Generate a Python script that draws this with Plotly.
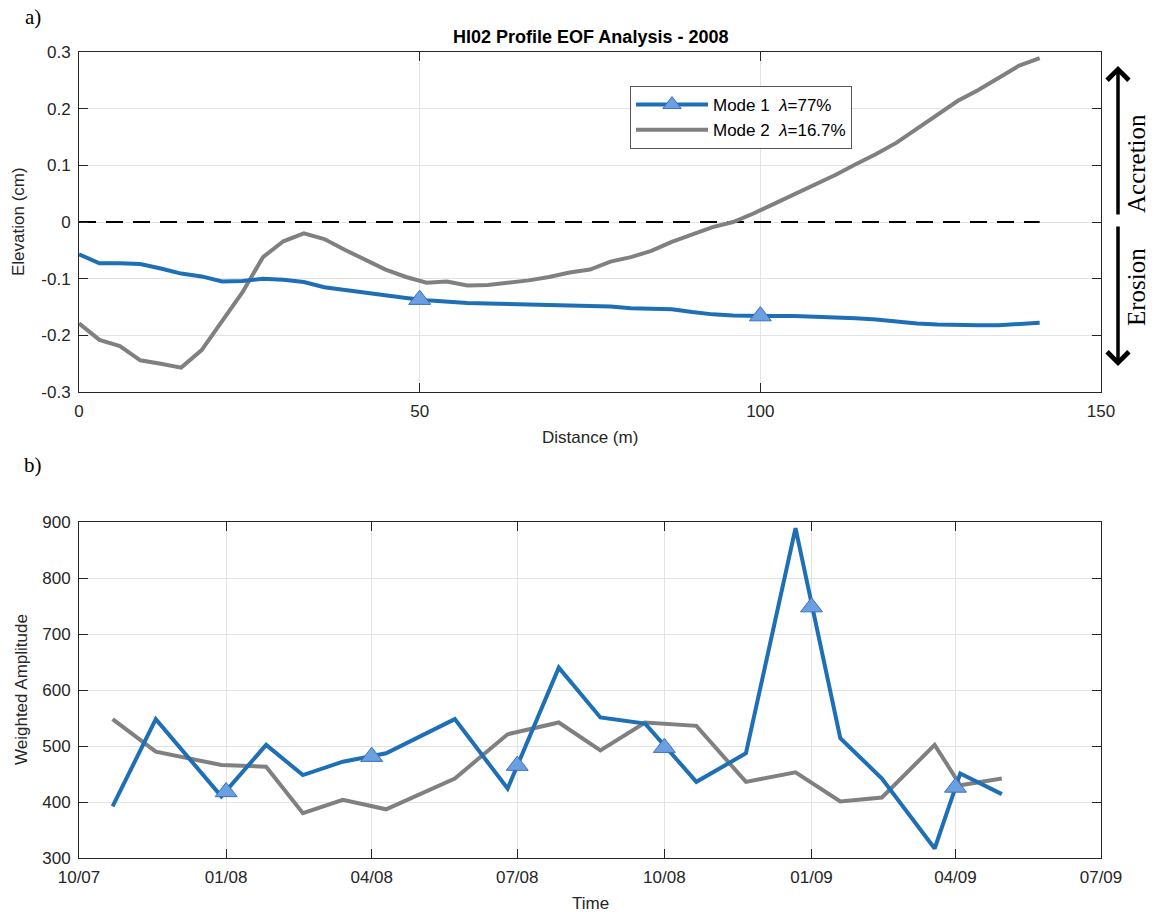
import plotly.graph_objects as go

# ---------------- data: panel a (EOF spatial modes) ----------------
distance_m = [0, 3, 6, 9, 12, 15, 18, 21, 24, 27, 30, 33, 36, 39, 42, 45, 48,
              51, 54, 57, 60, 63, 66, 69, 72, 75, 78, 81, 84, 87, 90, 93, 96,
              99, 102, 105, 108, 111, 114, 117, 120, 123, 126, 129, 132, 135,
              138, 141]
mode1_elev = [-0.057, -0.073, -0.073, -0.074, -0.082, -0.091, -0.096, -0.105,
              -0.104, -0.100, -0.102, -0.106, -0.115, -0.120, -0.125, -0.130,
              -0.134, -0.138, -0.141, -0.143, -0.144, -0.145, -0.146, -0.146,
              -0.147, -0.148, -0.149, -0.152, -0.153, -0.154, -0.159, -0.163,
              -0.165, -0.166, -0.166, -0.166, -0.167, -0.168, -0.170, -0.172,
              -0.176, -0.179, -0.181, -0.182, -0.182, -0.182, -0.180, -0.178]
mode2_elev = [-0.179, -0.208, -0.219, -0.244, -0.250, -0.257, -0.226, -0.175,
              -0.124, -0.062, -0.034, -0.020, -0.030, -0.049, -0.067, -0.084,
              -0.097, -0.107, -0.105, -0.112, -0.111, -0.107, -0.103, -0.097,
              -0.089, -0.084, -0.070, -0.062, -0.051, -0.035, -0.022, -0.009,
              0.000, 0.015, 0.032, 0.049, 0.066, 0.083, 0.102, 0.120, 0.140,
              0.164, 0.189, 0.214, 0.233, 0.254, 0.276, 0.289]
mode1_marker_x = [50, 100]
mode1_marker_y = [-0.137, -0.166]

a_xticks = [0, 50, 100, 150]
a_yticks = [-0.3, -0.2, -0.1, 0, 0.1, 0.2, 0.3]
a_yticktext = ["-0.3", "-0.2", "-0.1", "0", "0.1", "0.2", "0.3"]

# ---------------- data: panel b (temporal amplitudes) ----------------
survey_dates = ["2007-10-22", "2007-11-18", "2007-12-29", "2008-01-26",
                "2008-02-18", "2008-03-14", "2008-04-10", "2008-05-23",
                "2008-06-25", "2008-07-27", "2008-08-22", "2008-09-19",
                "2008-10-21", "2008-11-21", "2008-12-22", "2009-01-19",
                "2009-02-14", "2009-03-19", "2009-04-04", "2009-04-30"]
mode1_amp = [392, 548, 410, 502, 448, 472, 487, 548, 424, 640, 551, 540,
             436, 487, 889, 514, 442, 317, 451, 414]
mode2_amp = [548, 490, 466, 463, 380, 404, 387, 442, 521, 542, 492, 542,
             536, 436, 453, 401, 408, 502, 430, 442]
amp_marker_dates = ["2008-01-01", "2008-04-01", "2008-07-01", "2008-10-01",
                    "2009-01-01", "2009-04-01"]
amp_marker_vals = [418, 481, 465, 497, 748, 426]

b_xticks = ["2007-10-01", "2008-01-01", "2008-04-01", "2008-07-01",
            "2008-10-01", "2009-01-01", "2009-04-01", "2009-07-01"]
b_xticktext = ["10/07", "01/08", "04/08", "07/08", "10/08", "01/09", "04/09", "07/09"]
b_yticks = [300, 400, 500, 600, 700, 800, 900]

# ---------------- styling ----------------
W, H = 1155, 912
BLUE = "#1f6fb6"
GRAY = "#808080"
MK_FILL = "#6a9fe0"
MK_EDGE = "#3c6fc0"
SANS = "Liberation Sans, Arial, Helvetica, sans-serif"
SERIF = "Liberation Serif, Times New Roman, serif"
AX_COL = "#262626"
FS = 17

def px(x):
    return x / W

def py(y):
    return 1 - y / H

fig = go.Figure()

# panel a
fig.add_trace(go.Scatter(x=[distance_m[0], distance_m[-1]], y=[0, 0], mode="lines",
                         line=dict(color="black", width=2.2, dash="17px,10px"),
                         showlegend=False, hoverinfo="skip", xaxis="x", yaxis="y"))
fig.add_trace(go.Scatter(x=distance_m, y=mode2_elev, mode="lines",
                         line=dict(color=GRAY, width=4), showlegend=False,
                         xaxis="x", yaxis="y"))
fig.add_trace(go.Scatter(x=distance_m, y=mode1_elev, mode="lines",
                         line=dict(color=BLUE, width=4), showlegend=False,
                         xaxis="x", yaxis="y"))
fig.add_trace(go.Scatter(x=mode1_marker_x, y=mode1_marker_y, mode="markers",
                         marker=dict(symbol="triangle-up", size=19, color=MK_FILL,
                                     line=dict(color=MK_EDGE, width=1)),
                         showlegend=False, xaxis="x", yaxis="y"))
# legend entries
fig.add_trace(go.Scatter(x=[None], y=[None], mode="lines+markers",
                         name="Mode 1  <i>λ</i>=77%",
                         line=dict(color=BLUE, width=4),
                         marker=dict(symbol="triangle-up", size=19, color=MK_FILL,
                                     line=dict(color=MK_EDGE, width=1)),
                         xaxis="x", yaxis="y"))
fig.add_trace(go.Scatter(x=[None], y=[None], mode="lines",
                         name="Mode 2  <i>λ</i>=16.7%",
                         line=dict(color=GRAY, width=4), xaxis="x", yaxis="y"))

# panel b
fig.add_trace(go.Scatter(x=survey_dates, y=mode2_amp, mode="lines",
                         line=dict(color=GRAY, width=4), showlegend=False,
                         xaxis="x2", yaxis="y2"))
fig.add_trace(go.Scatter(x=survey_dates, y=mode1_amp, mode="lines",
                         line=dict(color=BLUE, width=4), showlegend=False,
                         xaxis="x2", yaxis="y2"))
fig.add_trace(go.Scatter(x=amp_marker_dates, y=amp_marker_vals, mode="markers",
                         marker=dict(symbol="triangle-up", size=19, color=MK_FILL,
                                     line=dict(color=MK_EDGE, width=1)),
                         showlegend=False, xaxis="x2", yaxis="y2"))

axis_common = dict(showline=True, linecolor=AX_COL, linewidth=1, mirror="ticks",
                   ticks="inside", ticklen=9, tickcolor=AX_COL, showgrid=True,
                   gridcolor="#e3e3e3", gridwidth=1, zeroline=False,
                   automargin=False, ticklabelstandoff=4,
                   tickfont=dict(family=SANS, size=FS, color=AX_COL))

fig.update_layout(
    width=W, height=H,
    margin=dict(l=0, r=0, t=0, b=0, pad=0, autoexpand=False),
    paper_bgcolor="white", plot_bgcolor="white",
    xaxis=dict(domain=[px(79), px(1101)], anchor="y", range=[0, 150],
               tickvals=a_xticks, **axis_common),
    yaxis=dict(domain=[py(392), py(52)], anchor="x", range=[-0.3, 0.3],
               tickvals=a_yticks, ticktext=a_yticktext, **axis_common),
    xaxis2=dict(domain=[px(79), px(1101)], anchor="y2", type="date",
                range=[b_xticks[0], b_xticks[-1]], tickvals=b_xticks,
                ticktext=b_xticktext, **axis_common),
    yaxis2=dict(domain=[py(858), py(522)], anchor="x2", range=[300, 900],
                tickvals=b_yticks, **axis_common),
    legend=dict(x=px(630), y=py(86), xanchor="left", yanchor="top",
                bgcolor="white", bordercolor="#555555", borderwidth=1,
                font=dict(family=SANS, size=17, color="black"),
                itemwidth=72, tracegroupgap=0),
    showlegend=True,
)

ann = []
def text_ann(t, x, y, size, family=SANS, angle=0, bold=False, color="black"):
    ann.append(dict(text=("<b>%s</b>" % t) if bold else t, x=px(x), y=py(y),
                    xref="paper", yref="paper", showarrow=False,
                    xanchor="center", yanchor="middle", textangle=angle,
                    font=dict(family=family, size=size, color=color)))

text_ann("HI02 Profile EOF Analysis - 2008", 590, 37, 18, bold=True)
text_ann("Elevation (cm)", 18, 222, FS, angle=-90, color=AX_COL)
text_ann("Distance (m)", 590, 437, FS, color=AX_COL)
text_ann("Weighted Amplitude", 21, 690, FS, angle=-90, color=AX_COL)
text_ann("Time", 590, 903, FS, color=AX_COL)
text_ann("a)", 33, 17, 21, family=SERIF)
text_ann("b)", 33, 465, 21, family=SERIF)
text_ann("Accretion", 1136, 164, 25, family=SERIF, angle=-90)
text_ann("Erosion", 1136, 287, 25, family=SERIF, angle=-90)

# arrows (head at x,y; tail offset in pixels)
ann.append(dict(text="", x=px(1118), y=py(66), xref="paper", yref="paper",
                showarrow=True, ax=0, ay=150, arrowhead=4, arrowsize=1.2,
                arrowwidth=3.5, arrowcolor="black"))
ann.append(dict(text="", x=px(1118), y=py(366), xref="paper", yref="paper",
                showarrow=True, ax=0, ay=-141, arrowhead=4, arrowsize=1.2,
                arrowwidth=3.5, arrowcolor="black"))
fig.update_layout(annotations=ann)

fig.write_html("out.html")
